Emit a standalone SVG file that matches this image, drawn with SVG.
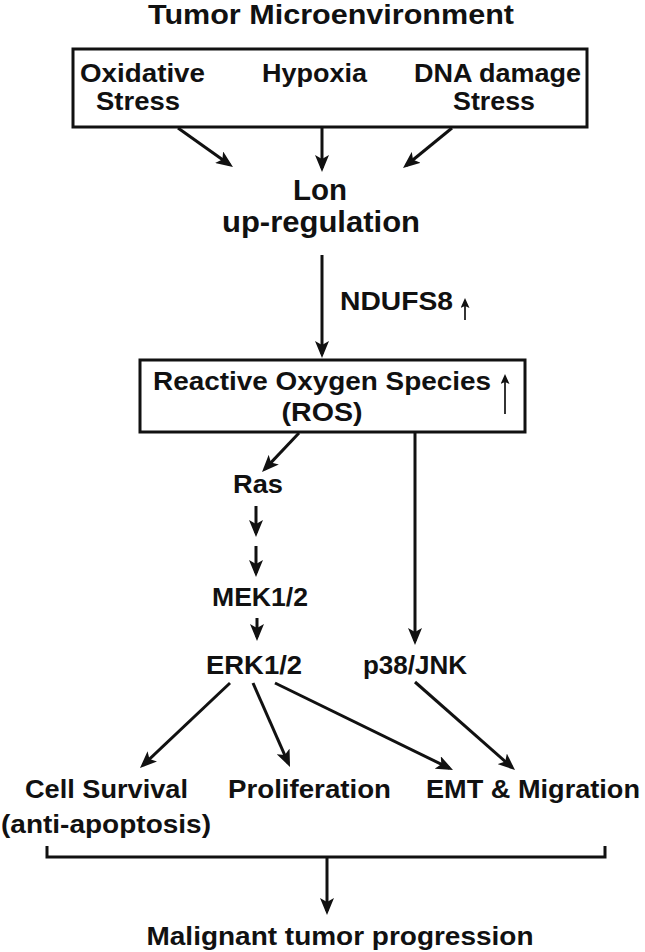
<svg xmlns="http://www.w3.org/2000/svg" width="645" height="952" viewBox="0 0 645 952">
<defs>
<style>
text{font-family:"Liberation Sans",Arial,sans-serif;font-weight:bold;fill:#111;}
.m{text-anchor:middle;}
.s25{font-size:26px;}
.s29{font-size:30px;}
.box{fill:#fff;stroke:#111;stroke-width:3;}
.ln{fill:none;stroke:#111;stroke-width:3;marker-end:url(#ah);}
.thin{fill:none;stroke:#111;stroke-width:1.7;marker-end:url(#ahs);}
</style>
<marker id="ah" markerUnits="userSpaceOnUse" markerWidth="17" markerHeight="14" refX="13" refY="7" orient="auto">
<path d="M0,0 L17,7 L0,14 L4,7 z" fill="#111"/>
</marker>
<marker id="ahs" markerUnits="userSpaceOnUse" markerWidth="10" markerHeight="9" refX="8" refY="4.5" orient="auto">
<path d="M0,0 L10,4.5 L0,9 L2,4.5 z" fill="#111"/>
</marker>
</defs>
<rect width="645" height="952" fill="#fff"/>

<g id="title"><text class="m" x="331" y="24" font-size="27" textLength="366" lengthAdjust="spacingAndGlyphs">Tumor Microenvironment</text></g>

<g id="microenvironment">
<rect class="box" x="73" y="49" width="514" height="78"/>
<text class="m s25" x="142.5" y="82" textLength="125" lengthAdjust="spacingAndGlyphs">Oxidative</text>
<text class="m s25" x="138" y="110" textLength="84" lengthAdjust="spacingAndGlyphs">Stress</text>
<text class="m s25" x="314.5" y="82" textLength="105" lengthAdjust="spacingAndGlyphs">Hypoxia</text>
<text class="m s25" x="497.5" y="82" textLength="167" lengthAdjust="spacingAndGlyphs">DNA damage</text>
<text class="m s25" x="494" y="110" textLength="82" lengthAdjust="spacingAndGlyphs">Stress</text>
</g>

<g id="lon">
<text class="m s29" x="320" y="200" textLength="54" lengthAdjust="spacingAndGlyphs">Lon</text>
<text class="m s29" x="321" y="232" textLength="198" lengthAdjust="spacingAndGlyphs">up-regulation</text>
</g>

<g id="ndufs8">
<text class="s25" x="340" y="310" textLength="113" lengthAdjust="spacingAndGlyphs">NDUFS8</text>
<path class="thin" d="M465,320 V300"/>
</g>

<g id="ros">
<rect class="box" x="140" y="360" width="385" height="72"/>
<text class="s25" x="153" y="390" textLength="338" lengthAdjust="spacingAndGlyphs">Reactive Oxygen Species</text>
<path class="thin" d="M505,414 V376"/>
<text class="m s25" x="322" y="421" textLength="81" lengthAdjust="spacingAndGlyphs">(ROS)</text>
</g>

<g id="ras"><text class="m s25" x="258" y="493" textLength="50" lengthAdjust="spacingAndGlyphs">Ras</text></g>
<g id="mek"><text class="m s25" x="260" y="606" textLength="96" lengthAdjust="spacingAndGlyphs">MEK1/2</text></g>
<g id="erk"><text class="m s25" x="254" y="674" textLength="96" lengthAdjust="spacingAndGlyphs">ERK1/2</text></g>
<g id="p38"><text class="m s25" x="415" y="674" textLength="104" lengthAdjust="spacingAndGlyphs">p38/JNK</text></g>

<g id="survival">
<text class="m s25" x="106.5" y="798" textLength="163" lengthAdjust="spacingAndGlyphs">Cell Survival</text>
<text class="m s25" x="106" y="833" textLength="210" lengthAdjust="spacingAndGlyphs">(anti-apoptosis)</text>
</g>
<g id="proliferation"><text class="m s25" x="309.5" y="798" textLength="163" lengthAdjust="spacingAndGlyphs">Proliferation</text></g>
<g id="emt"><text class="m s25" x="533" y="798" textLength="214" lengthAdjust="spacingAndGlyphs">EMT &amp; Migration</text></g>
<g id="malignant"><text class="m s25" x="340" y="945" textLength="387" lengthAdjust="spacingAndGlyphs">Malignant tumor progression</text></g>

<g id="connectors">
<path class="ln" d="M178,128 L229.7,164.7"/>
<path class="ln" d="M322,128 V168"/>
<path class="ln" d="M452,128 L406.1,165.5"/>
<path class="ln" d="M322,255 V354"/>
<path class="ln" d="M299,433 L264.8,469.1"/>
<path class="ln" d="M256,506 V533"/>
<path class="ln" d="M256,546 V573"/>
<path class="ln" d="M257,618 V637"/>
<path class="ln" d="M415,433 V641"/>
<path class="ln" d="M230,683 L142.9,765.3"/>
<path class="ln" d="M253,683 L288.4,763.3"/>
<path class="ln" d="M275,683 L449.4,768.2"/>
<path class="ln" d="M415,682 L512,767.4"/>
<path fill="none" stroke="#111" stroke-width="3" d="M47,846 V857 H605 V846"/>
<path class="ln" d="M327,858 V911"/>
</g>
</svg>
